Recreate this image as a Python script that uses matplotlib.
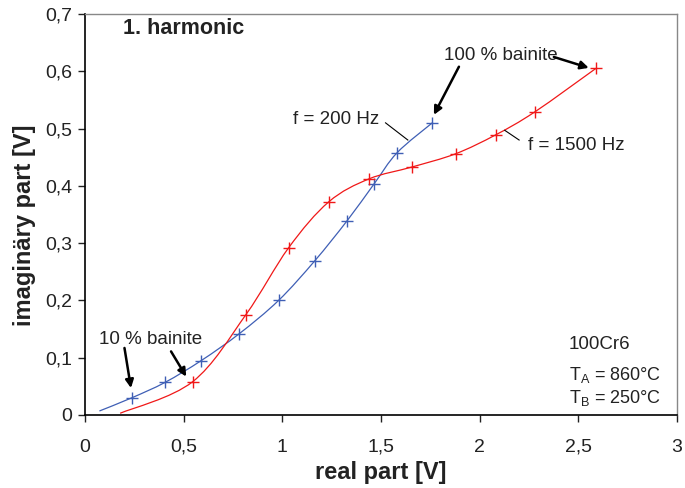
import numpy as np
import matplotlib
matplotlib.use("Agg")
import matplotlib.pyplot as plt
from matplotlib.path import Path
from matplotlib.patches import PathPatch
from matplotlib.ticker import FuncFormatter

plt.rcParams['font.family'] = ['Liberation Sans', 'DejaVu Sans']

# data (real part, imaginary part in V)
blue_x = [0.237, 0.406, 0.589, 0.782, 0.981, 1.164, 1.328, 1.464, 1.582, 1.760]
blue_y = [0.030, 0.057, 0.095, 0.142, 0.200, 0.269, 0.339, 0.403, 0.458, 0.510]
red_x = [0.545, 0.815, 1.032, 1.235, 1.438, 1.658, 1.878, 2.081, 2.279, 2.589]
red_y = [0.058, 0.175, 0.292, 0.372, 0.412, 0.433, 0.456, 0.489, 0.529, 0.605]
# curve start points without marker
blue_start = (0.073, 0.007)
red_start = (0.178, 0.003)

BLUE = '#3f5fb5'
RED = '#f01818'
TXT = '#222222'


def smooth_path(xs, ys):
    # catmull-rom style bezier like excel "smoothed line"
    p = np.column_stack([xs, ys])
    verts = [p[0]]
    codes = [Path.MOVETO]
    n = len(p)
    for i in range(n - 1):
        p0 = p[i - 1] if i > 0 else p[i]
        p1 = p[i]
        p2 = p[i + 1]
        p3 = p[i + 2] if i + 2 < n else p[i + 1]
        c1 = p1 + (p2 - p0) / 6.0
        c2 = p2 - (p3 - p1) / 6.0
        verts += [c1, c2, p2]
        codes += [Path.CURVE4] * 3
    return Path(verts, codes)


fig = plt.figure(figsize=(6.85, 4.88), dpi=100)
ax = fig.add_axes([0.1241, 0.1496, 0.8642, 0.8217])

for (sx, sy), xs, ys, c in [(blue_start, blue_x, blue_y, BLUE),
                            (red_start, red_x, red_y, RED)]:
    path = smooth_path([sx] + xs, [sy] + ys)
    ax.add_patch(PathPatch(path, facecolor='none', edgecolor=c, lw=0.9))
    ax.plot(xs, ys, linestyle='none', marker='+', markersize=9,
            markeredgewidth=1.0, color=c)

ax.set_xlim(0, 3)
ax.set_ylim(0, 0.7)
ax.set_xticks([0, 0.5, 1, 1.5, 2, 2.5, 3])
ax.set_yticks(np.arange(0, 0.71, 0.1))
fmt = FuncFormatter(lambda v, pos: ('%g' % round(v, 2)).replace('.', ','))
ax.xaxis.set_major_formatter(fmt)
ax.yaxis.set_major_formatter(fmt)
ax.tick_params(axis='x', direction='out', length=5, width=1, pad=12,
               labelsize=14, colors=TXT)
ax.tick_params(axis='y', direction='out', length=5, width=1, pad=4,
               labelsize=14, colors=TXT)
for s in ['left', 'bottom']:
    ax.spines[s].set_color('black')
    ax.spines[s].set_linewidth(1.2)
for s in ['top', 'right']:
    ax.spines[s].set_color('#888888')
    ax.spines[s].set_linewidth(1.0)

ax.set_xlabel('real part [V]', fontsize=17, fontweight='bold', labelpad=4,
              color=TXT)
ax.set_ylabel('imaginäry part [V]', fontsize=17, fontweight='bold',
              color=TXT)
ax.yaxis.set_label_coords(-0.082, 0.474)

ax.text(0.193, 0.675, '1. harmonic', fontsize=15.5, fontweight='bold',
        va='center', ha='left', color=TXT)

arrow = dict(arrowstyle='-|>', color='black', lw=1.8, mutation_scale=12,
             shrinkA=0, shrinkB=0)
ax.text(0.33, 0.131, '10 % bainite', fontsize=13.5, ha='center', va='center',
        color=TXT)
ax.annotate('', xy=(0.233, 0.047), xytext=(0.200, 0.117), arrowprops=arrow)
ax.annotate('', xy=(0.513, 0.067), xytext=(0.436, 0.111), arrowprops=arrow)

ax.text(2.107, 0.627, '100 % bainite', fontsize=13.5, ha='center',
        va='center', color=TXT)
ax.annotate('', xy=(1.768, 0.524), xytext=(1.895, 0.608), arrowprops=arrow)
ax.annotate('', xy=(2.553, 0.606), xytext=(2.376, 0.625), arrowprops=arrow)

ax.text(1.274, 0.515, 'f = 200 Hz', fontsize=13.5, ha='center', va='center',
        color=TXT)
ax.plot([1.523, 1.636], [0.510, 0.480], color='black', lw=0.8)

ax.text(2.245, 0.471, 'f = 1500 Hz', fontsize=13.5, ha='left', va='center',
        color=TXT)
ax.plot([2.127, 2.200], [0.497, 0.480], color='black', lw=0.8)

ax.text(2.453, 0.123, '100Cr6', fontsize=13.5, ha='left', va='center',
        color=TXT)
ax.text(2.453, 0.070, r'T$_\mathregular{A}$ = 860°C', fontsize=13,
        ha='left', va='center', color=TXT)
ax.text(2.453, 0.030, r'T$_\mathregular{B}$ = 250°C', fontsize=13,
        ha='left', va='center', color=TXT)

fig.savefig('out.png', dpi=100)
